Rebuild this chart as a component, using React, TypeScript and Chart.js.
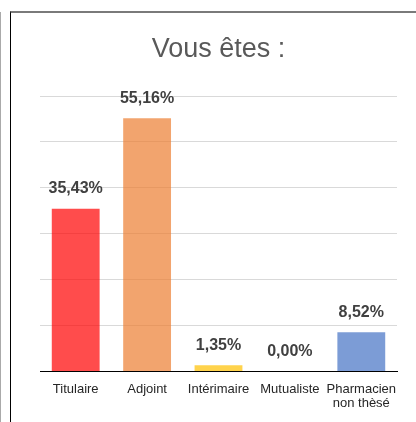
import React, { useEffect, useRef } from "react";
import { Chart, registerables } from "chart.js";

Chart.register(...registerables);

const categories: (string | string[])[] = ["Titulaire", "Adjoint", "Intérimaire", "Mutualiste", ["Pharmacien", "non thèsé"]];
const percentages: number[] = [35.43, 55.16, 1.35, 0.0, 8.52];
const barColors: string[] = [
  "rgba(255, 0, 0, 0.7)",
  "rgba(237, 125, 49, 0.7)",
  "rgba(255, 192, 0, 0.7)",
  "rgba(165, 165, 165, 0.7)",
  "rgba(68, 114, 196, 0.7)",
];
const yTicks = { min: 0, max: 60, step: 10 };
const titleText = "Vous êtes :";

const FONT = "'Liberation Sans', Arial, Helvetica, sans-serif";

const fmt = (v: number) => v.toFixed(2).replace(".", ",") + "%";

const valueLabels = {
  id: "valueLabels",
  afterDatasetsDraw(chart: any) {
    const ctx = chart.ctx;
    const meta = chart.getDatasetMeta(0);
    ctx.save();
    ctx.font = `bold 16px ${FONT}`;
    ctx.fillStyle = "#404040";
    ctx.textAlign = "center";
    ctx.textBaseline = "middle";
    meta.data.forEach((bar: any, i: number) => {
      ctx.fillText(fmt(percentages[i]), bar.x, bar.y - 20);
    });
    ctx.restore();
  },
};

export default function App() {
  const ref = useRef<HTMLCanvasElement | null>(null);
  useEffect(() => {
    if (!ref.current) return;
    const chart = new Chart(ref.current, {
      type: "bar",
      data: {
        labels: categories,
        datasets: [
          {
            data: percentages,
            backgroundColor: barColors,
            borderWidth: 0,
            categoryPercentage: 0.67,
            barPercentage: 1,
          },
        ],
      },
      options: {
        animation: false,
        responsive: false,
        devicePixelRatio: 1,
        layout: { padding: { left: 40, right: 19, top: 0, bottom: 0 } },
        plugins: {
          legend: { display: false },
          tooltip: { enabled: false },
          title: {
            display: true,
            text: titleText,
            color: "#595959",
            font: { family: FONT, size: 27, weight: "normal", lineHeight: 1.2 },
            padding: { top: 33, bottom: 30.6 },
          },
        },
        scales: {
          x: {
            grid: { display: false, drawTicks: false },
            border: { display: true, color: "#000000", width: 1 },
            ticks: {
              color: "#262626",
              padding: 11,
              font: { family: FONT, size: 13, lineHeight: 1.1 },
              maxRotation: 0,
              autoSkip: false,
            },
          },
          y: {
            min: yTicks.min,
            max: yTicks.max,
            ticks: { display: false, stepSize: yTicks.step },
            grid: { color: "#d9d9d9", drawTicks: false, lineWidth: 1 },
            border: { display: false },
          },
        },
      },
      plugins: [valueLabels],
    });
    return () => chart.destroy();
  }, []);

  return (
    <div style={{ position: "fixed", left: 0, top: 0, width: 416, height: 422, overflow: "hidden", background: "#fff" }}>
      <div style={{ position: "absolute", left: 0, top: 12, width: 1, height: 410, background: "#aaaaaa" }} />
      <div
        style={{
          position: "absolute",
          left: 10,
          top: 11,
          width: 430,
          height: 430,
          borderLeft: "1px solid #000",
          borderTop: "2px solid #7a7a7a",
          boxSizing: "border-box",
        }}
      />
      <canvas ref={ref} width={416} height={422} style={{ position: "absolute", left: 0, top: 0, width: 416, height: 422 }} />
    </div>
  );
}
